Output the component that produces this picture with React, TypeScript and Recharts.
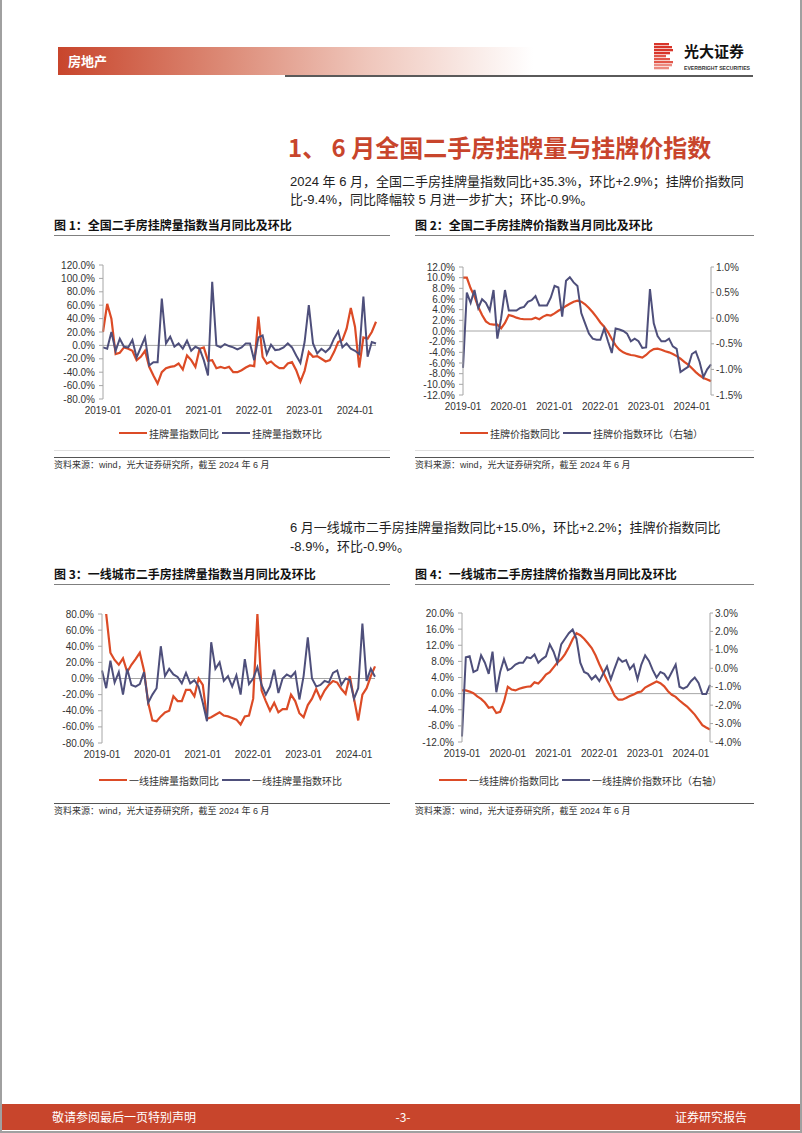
import React from 'react';
import { LineChart, Line, XAxis, YAxis, ReferenceLine } from 'recharts';

const RED = '#dc4b26';
const NAVY = '#4e4f7b';
const BRAND = '#c8452c';
const CJK = '"Noto Sans CJK SC", sans-serif';
const LATIN = '"Liberation Sans", "Noto Sans CJK SC", sans-serif';

// monthly categories 2019-01 .. 2024-06
const months: string[] = [];
for (let y = 2019; y <= 2024; y++) {
  for (let m = 1; m <= 12; m++) {
    if (y === 2024 && m > 6) break;
    months.push(`${y}-${String(m).padStart(2, '0')}`);
  }
}

// 图1 全国挂牌量指数
const natVolYoy = [20, 62, 40, -13, -11, -3, -5, -8, -22, -17, -8, -32, -45, -57, -40, -34, -32, -31, -27, -36, -15, -22, -32, -5, -3, -23, -22, -34, -32, -34, -32, -40, -40, -37, -33, -30, -31, 43, -17, -27, -24, -30, -34, -34, -27, -25, -37, -54, -38, -10, -17, -16, -20, -24, -22, -10, 5, 8, 25, 56, 28, -33, 12, 10, 20, 35.3];
const natVolMom = [-3, -5, 20, -8, 10, -2, -3, 8, -18, -3, 12, -30, -25, -25, 70, 3, 13, -2, 3, -5, 7, -8, -2, -5, -22, -45, 95, 0, -3, 2, -1, -3, -6, -3, 3, 3, -22, 12, 15, -13, 1, -7, -6, -3, 3, -3, -15, -26, 5, 60, 3, -12, -5, -10, -4, 10, 21, -3, 3, -5, -8, -13, 73, -17, 5, 2.9];

// 图2 全国挂牌价指数
const natPriceYoy = [10, 10, 8, 6.5, 4.5, 3, 1.8, 1.3, 1.2, 1.2, 0.5, 1.5, 3, 2.8, 2.5, 2.3, 2.2, 2.2, 2.2, 2.5, 2.2, 2.7, 3, 2.9, 3.3, 3.8, 4.2, 4.7, 5.1, 5.5, 5.7, 5.5, 5, 4.3, 3.5, 2.6, 1.6, 0.8, -0.2, -1.5, -2.7, -3.5, -4, -4.3, -4.5, -4.6, -4.8, -5, -4.5, -3.8, -3.4, -3.3, -3.5, -3.8, -4, -4.3, -4.7, -5.2, -5.8, -6.3, -7, -7.7, -8.3, -8.8, -9.1, -9.4];
const natPriceMom = [-0.97, 0.5, 0.3, 0.55, 0.2, 0.37, 0.3, 0.15, 0.55, -0.4, 0, 0.55, 0.15, 0.15, 0.15, 0.2, 0.22, 0.32, 0.35, 0.43, 0.25, 0.25, 0.25, 0.4, 0.63, 0.6, 0.03, 0.73, 0.8, 0.7, 0.63, 0.1, -0.1, -0.3, -0.4, -0.42, -0.42, -0.2, -0.45, -0.68, -0.2, -0.22, -0.25, -0.3, -0.45, -0.4, -0.45, -0.58, -0.57, 0.57, -0.1, -0.35, -0.45, -0.45, -0.4, -0.55, -0.6, -1.05, -1, -0.95, -0.7, -0.65, -0.85, -1.15, -1, -0.9];

// 图3 一线挂牌量指数
const t1VolYoy = [120, 80, 32, 23, 17, 25, 8, 17, 24, 32, 10, -30, -52, -53, -47, -42, -40, -22, -28, -28, -14, -14, -22, 0, -8, -50, -48, -45, -42, -46, -47, -49, -51, -57, -47, -46, -25, 80, -15, -28, -40, -30, -42, -38, -38, -20, -28, -43, -48, -33, -25, -13, -25, -15, -8, -3, -5, -13, -19, 3, -25, -52, -20, -12, 3, 15];
const t1VolMom = [10, -12, 22, -5, 8, -20, 12, -8, -10, -7, 8, -30, -20, -12, 40, 3, 12, 5, 2, -6, 7, -6, -2, -10, -30, -53, 45, 12, 20, -3, 3, -10, 4, -20, 24, -7, 0, 14, -8, -20, -10, 11, -18, 0, 5, 2, 8, -26, 3, 51, 0, -10, -8, -3, -5, 7, 10, -8, 0, -2, -25, -12, 68, -3, 12, 2.2];

// 图4 一线挂牌价指数
const t1PriceYoy = [0.8, 0.8, 0.5, 0.1, -0.7, -1.3, -2.2, -3.5, -3.3, -4.8, -4.5, -2, 1.7, 1, 0.8, 1.2, 1.5, 1.7, 1.8, 2.8, 2.5, 3.5, 4.7, 5.3, 6.5, 7.7, 8.5, 9.8, 11.5, 13.5, 15, 14.5, 13.6, 12.5, 11.3, 9.5, 7.3, 5.3, 3.3, 1.5, -0.5, -1.5, -1.5, -1.1, -0.6, -0.2, 0.3, 0.5, 1.5, 2, 2.5, 3, 2.6, 1.8, 0.6, -0.3, -0.8, -1.7, -2.5, -3.2, -4.2, -5.2, -6.5, -7.8, -8.4, -8.9];
const t1PriceMom = [-3.7, 0.6, 0.65, -0.2, -0.1, 0.7, 0.3, -0.3, 0.9, -1.3, -0.2, 0.5, -0.1, 0, 0.2, 0.3, 0.3, 0.6, 0.55, 0.75, 0.3, 0.5, 0.65, 1.3, 0.9, 0.3, 1.3, 1.6, 1.9, 2.1, 1.6, 0.3, -0.2, -0.3, -0.6, -0.4, -0.7, -0.3, 0.1, -0.6, 0, 0.55, 0.35, 0.45, -0.05, 0.2, -0.6, 0.2, 0.7, 0.4, -0.1, -0.5, -0.2, -0.3, -0.6, -0.2, 0.2, -1, -1.1, -1, -0.7, -0.5, -0.8, -1.4, -1.4, -0.9];

const ticksVol1 = [-80, -60, -40, -20, 0, 20, 40, 60, 80, 100, 120];
const ticksPrice1 = [-12, -10, -8, -6, -4, -2, 0, 2, 4, 6, 8, 10, 12];
const ticksPrice1R = [-1.5, -1, -0.5, 0, 0.5, 1];
const ticksVol2 = [-80, -60, -40, -20, 0, 20, 40, 60, 80];
const ticksPrice2 = [-12, -8, -4, 0, 4, 8, 12, 16, 20];
const ticksPrice2R = [-4, -3, -2, -1, 0, 1, 2, 3];

const pct = (v: number) => `${v.toFixed(1)}%`;
const tickStyle = { fill: '#333', fontSize: 10, fontFamily: LATIN };

interface PanelProps {
  left: number; top: number; width: number; height: number;
  yWidth: number; yRightWidth?: number; marginRight: number;
  domain: [number, number]; ticks: number[];
  rDomain?: [number, number]; rTicks?: number[];
  yoy: number[]; mom: number[];
}

function Panel(p: PanelProps) {
  const data = months.map((m, i) => ({ month: m, yoy: p.yoy[i], mom: p.mom[i] }));
  const dual = !!p.rDomain;
  return (
    <div style={{ position: 'absolute', left: p.left, top: p.top }}>
      <LineChart width={p.width} height={p.height} data={data}
        margin={{ top: 10, right: p.marginRight, left: 0, bottom: 0 }}>
        <XAxis dataKey="month" interval={11} axisLine={false} tickLine={false}
          height={20} tick={tickStyle} />
        <YAxis yAxisId="l" domain={p.domain} ticks={p.ticks} allowDataOverflow interval={0}
          width={p.yWidth} tickFormatter={pct} tick={tickStyle}
          axisLine={{ stroke: '#a6a6a6' }} tickLine={{ stroke: '#a6a6a6' }} tickSize={4} tickMargin={4} />
        {dual && (
          <YAxis yAxisId="r" orientation="right" domain={p.rDomain} ticks={p.rTicks} allowDataOverflow interval={0}
            width={p.yRightWidth} tickFormatter={pct} tick={tickStyle}
            axisLine={{ stroke: '#a6a6a6' }} tickLine={{ stroke: '#a6a6a6' }} tickSize={3} tickMargin={2} />
        )}
        <ReferenceLine yAxisId="l" y={0} stroke="#a6a6a6" strokeWidth={1} />
        <Line yAxisId="l" dataKey="yoy" type="linear" stroke={RED} strokeWidth={2.2}
          dot={false} isAnimationActive={false} />
        <Line yAxisId={dual ? 'r' : 'l'} dataKey="mom" type="linear" stroke={NAVY} strokeWidth={2}
          dot={false} isAnimationActive={false} />
      </LineChart>
    </div>
  );
}

function LegendRow({ left, top, a, b }: { left: number; top: number; a: string; b: string }) {
  const seg = (c: string) => (
    <span style={{ display: 'inline-block', width: 28, height: 2.5, background: c, marginRight: 2 }} />
  );
  return (
    <div style={{
      position: 'absolute', left, top, height: 14, display: 'flex', alignItems: 'center',
      fontFamily: CJK, fontSize: 10, color: '#333', whiteSpace: 'nowrap',
    }}>
      {seg(RED)}<span style={{ marginRight: 3 }}>{a}</span>
      {seg(NAVY)}<span>{b}</span>
    </div>
  );
}

function FigTitle({ left, top, text, width }: { left: number; top: number; text: string; width: number }) {
  return (
    <>
      <div style={{
        position: 'absolute', left, top, fontFamily: CJK, fontWeight: 700, fontSize: 12,
        color: '#111', whiteSpace: 'nowrap', lineHeight: '16px',
      }}>{text}</div>
      <div style={{ position: 'absolute', left, top: top + 18, width, height: 1, background: '#7f7f7f' }} />
    </>
  );
}

function Source({ left, top, width }: { left: number; top: number; width: number }) {
  return (
    <>
      <div style={{ position: 'absolute', left, top, width, height: 1, background: '#555' }} />
      <div style={{
        position: 'absolute', left, top: top + 2, fontFamily: LATIN, fontSize: 9, color: '#333',
        whiteSpace: 'nowrap', lineHeight: '12px',
      }}>资料来源：wind，光大证券研究所，截至 2024 年 6 月</div>
    </>
  );
}

function Logo() {
  const bars = [15, 18, 19, 16, 12, 16, 19, 18, 15];
  return (
    <svg style={{ position: 'absolute', left: 650, top: 40 }} width={110} height={34}>
      {bars.map((w, i) => (
        <rect key={i} x={2} y={3 + i * 3} width={w} height={2.3}
          fill={i < 4 ? '#d8352a' : i < 7 ? '#e2574a' : '#ec8a80'} />
      ))}
      <text x={32} y={17} fontFamily={CJK} fontWeight={700} fontSize={15} fill="#111">光大证券</text>
      <text x={32} y={30} fontFamily={LATIN} fontWeight={700} fontSize={5.5} fill="#333"
        textLength={66} lengthAdjust="spacingAndGlyphs">EVERBRIGHT SECURITIES</text>
    </svg>
  );
}

const para = {
  position: 'absolute' as const, left: 288, fontFamily: LATIN, fontSize: 13, color: '#222',
  whiteSpace: 'nowrap' as const, lineHeight: '18px',
};

export default function App() {
  return (
    <div style={{
      position: 'absolute', left: 0, top: 0, width: 802, height: 1133, background: '#fff',
      overflow: 'hidden', boxSizing: 'border-box', borderLeft: '2px solid #a0a0a0',
      borderRight: '2px solid #a0a0a0', borderBottom: '2px solid #a0a0a0',
    }}>
      {/* header */}
      <div style={{
        position: 'absolute', left: 56, top: 47, width: 475, height: 28,
        background: 'linear-gradient(to right, #c8452c 0%, #dc8a76 35%, #efc6bb 65%, #ffffff 100%)',
      }} />
      <div style={{
        position: 'absolute', left: 66, top: 52, fontFamily: CJK, fontWeight: 700, fontSize: 13,
        color: '#fff', lineHeight: '18px',
      }}>房地产</div>
      <div style={{ position: 'absolute', left: 283, top: 75, width: 468, height: 2, background: '#5a5a5a' }} />
      <Logo />

      {/* section title */}
      <div style={{
        position: 'absolute', left: 286, top: 131, fontFamily: CJK, fontWeight: 700, fontSize: 24,
        color: BRAND, whiteSpace: 'nowrap', lineHeight: '32px',
      }}>1、 6 月全国二手房挂牌量与挂牌价指数</div>
      <div style={{ ...para, top: 173 }}>2024 年 6 月，全国二手房挂牌量指数同比+35.3%，环比+2.9%；挂牌价指数同</div>
      <div style={{ ...para, top: 191 }}>比-9.4%，同比降幅较 5 月进一步扩大；环比-0.9%。</div>

      {/* row 1 */}
      <FigTitle left={52} top={217} width={336} text="图 1：全国二手房挂牌量指数当月同比及环比" />
      <FigTitle left={413} top={217} width={339} text="图 2：全国二手房挂牌价指数当月同比及环比" />
      <Panel left={40} top={255} width={345} height={164} yWidth={61} marginRight={11}
        domain={[-80, 120]} ticks={ticksVol1} yoy={natVolYoy} mom={natVolMom} />
      <Panel left={410} top={257} width={360} height={158} yWidth={51} yRightWidth={61} marginRight={0}
        domain={[-12, 12]} ticks={ticksPrice1} rDomain={[-1.5, 1]} rTicks={ticksPrice1R}
        yoy={natPriceYoy} mom={natPriceMom} />
      <LegendRow left={117} top={426} a="挂牌量指数同比" b="挂牌量指数环比" />
      <LegendRow left={458} top={426} a="挂牌价指数同比" b="挂牌价指数环比（右轴）" />
      <div style={{ position: 'absolute', left: 52, top: 450, width: 336, height: 1, background: '#e0e0e0' }} />
      <div style={{ position: 'absolute', left: 413, top: 450, width: 339, height: 1, background: '#e0e0e0' }} />
      <Source left={52} top={457} width={336} />
      <Source left={413} top={457} width={339} />

      {/* second paragraph */}
      <div style={{ ...para, top: 519 }}>6 月一线城市二手房挂牌量指数同比+15.0%，环比+2.2%；挂牌价指数同比</div>
      <div style={{ ...para, top: 538 }}>-8.9%，环比-0.9%。</div>

      {/* row 2 */}
      <FigTitle left={52} top={566} width={336} text="图 3：一线城市二手房挂牌量指数当月同比及环比" />
      <FigTitle left={413} top={566} width={339} text="图 4：一线城市二手房挂牌价指数当月同比及环比" />
      <Panel left={40} top={604} width={345} height={159} yWidth={60} marginRight={12}
        domain={[-80, 80]} ticks={ticksVol2} yoy={t1VolYoy} mom={t1VolMom} />
      <Panel left={410} top={603} width={360} height={159} yWidth={50} yRightWidth={62} marginRight={0}
        domain={[-12, 20]} ticks={ticksPrice2} rDomain={[-4, 3]} rTicks={ticksPrice2R}
        yoy={t1PriceYoy} mom={t1PriceMom} />
      <LegendRow left={97} top={773} a="一线挂牌量指数同比" b="一线挂牌量指数环比" />
      <LegendRow left={437} top={773} a="一线挂牌价指数同比" b="一线挂牌价指数环比（右轴）" />
      <Source left={52} top={803} width={336} />
      <Source left={413} top={803} width={339} />

      {/* footer */}
      <div style={{
        position: 'absolute', left: 0, top: 1104, width: 802, height: 26, background: BRAND,
        fontFamily: CJK, fontSize: 12, color: '#fff', lineHeight: '26px',
      }}>
        <span style={{ position: 'absolute', left: 50 }}>敬请参阅最后一页特别声明</span>
        <span style={{ position: 'absolute', left: 0, width: 802, textAlign: 'center' }}>-3-</span>
        <span style={{ position: 'absolute', left: 673 }}>证券研究报告</span>
      </div>
    </div>
  );
}
